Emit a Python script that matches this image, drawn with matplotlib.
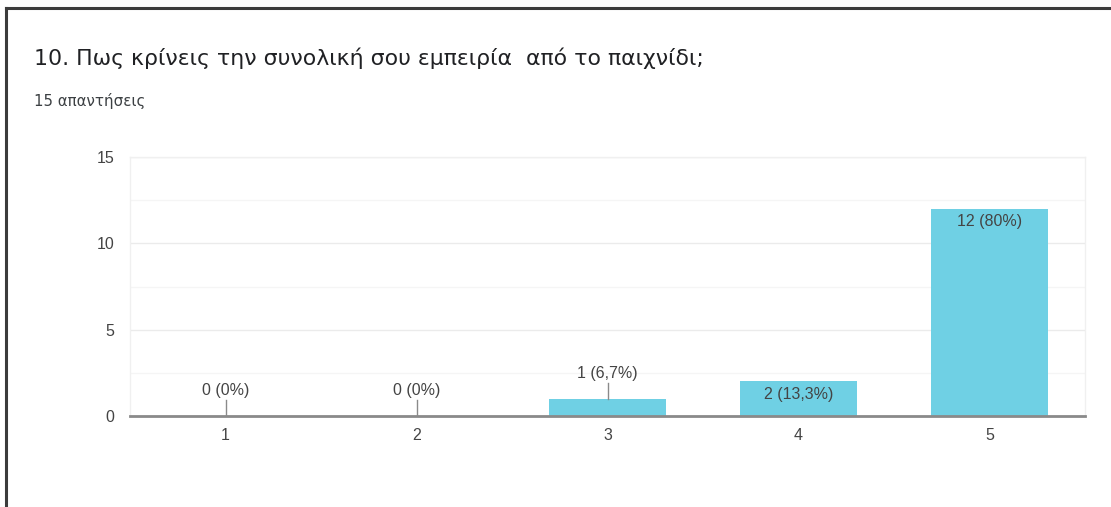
import matplotlib
matplotlib.use("Agg")
import matplotlib.pyplot as plt
from matplotlib.lines import Line2D

title = "10. Πως κρίνεις την συνολική σου εμπειρία  από το παιχνίδι;"
subtitle = "15 απαντήσεις"
categories = ["1", "2", "3", "4", "5"]
counts = [0, 0, 1, 2, 12]
labels = ["0 (0%)", "0 (0%)", "1 (6,7%)", "2 (13,3%)", "12 (80%)"]

bar_color = "#6fd0e4"
text_color = "#444444"

plt.rcParams['font.family'] = ['Liberation Sans', 'DejaVu Sans']

fig = plt.figure(figsize=(11.11, 5.07), dpi=100)
fig.patch.set_facecolor("white")

# frame of the screenshot (top and left edges only)
fig.add_artist(Line2D([6 / 1111, 1], [1 - 8 / 507, 1 - 8 / 507], color="#3c3c3c", lw=2.2,
                      transform=fig.transFigure))
fig.add_artist(Line2D([6 / 1111, 6 / 1111], [0, 1 - 8 / 507], color="#3c3c3c", lw=2.2,
                      transform=fig.transFigure))

fig.text(34 / 1111, 1 - 58 / 507, title, fontsize=15.8, color="#202124",
         family=['DejaVu Sans'], va="center", ha="left")
fig.text(34 / 1111, 1 - 101 / 507, subtitle, fontsize=10.8, color="#3c4043",
         family=['DejaVu Sans'], va="center", ha="left")

ax = fig.add_axes([130 / 1111, 91 / 507, 955 / 1111, 259 / 507])
x = list(range(1, len(categories) + 1))
ax.bar(x, counts, width=0.615, color=bar_color, zorder=2)

ax.set_xlim(0.5, 5.5)
ax.set_ylim(0, 15)
ax.set_yticks([0, 5, 10, 15])
ax.set_yticks([2.5, 7.5, 12.5], minor=True)
ax.set_xticks(x)
ax.set_xticklabels(categories)
ax.grid(axis="y", which="major", color="#ebebeb", lw=1, zorder=0)
ax.grid(axis="y", which="minor", color="#f5f5f5", lw=1, zorder=0)
ax.tick_params(axis="both", which="both", length=0, labelsize=11.5, labelcolor=text_color)
ax.tick_params(axis="x", pad=9)
ax.tick_params(axis="y", pad=11)
for side in ["top", "left", "right"]:
    ax.spines[side].set_color("#f0f0f0")
    ax.spines[side].set_linewidth(1)
ax.spines["bottom"].set_color("#8a8a8a")
ax.spines["bottom"].set_linewidth(2)
ax.spines["bottom"].set_zorder(3)

px_per_unit = 259 / 15
for xi, c, lab in zip(x, counts, labels):
    if c * px_per_unit > 26:
        ax.annotate(lab, (xi, c), xytext=(0, -4), textcoords="offset points",
                    ha="center", va="top", fontsize=11.5, color=text_color, zorder=4)
    else:
        ax.plot([xi, xi], [c, c + 16 / px_per_unit], color="#8a8a8a", lw=1, zorder=3)
        ax.annotate(lab, (xi, c), xytext=(0, 13), textcoords="offset points",
                    ha="center", va="bottom", fontsize=11.5, color=text_color, zorder=4)

fig.savefig("out.png", dpi=100, facecolor="white")
